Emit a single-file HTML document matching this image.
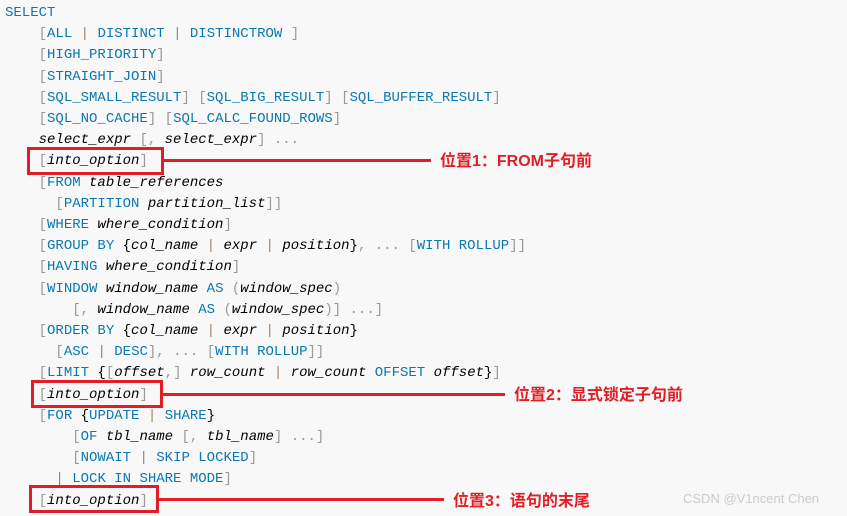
<!DOCTYPE html>
<html><head><meta charset="utf-8"><style>
html,body{margin:0;padding:0;width:847px;height:516px;overflow:hidden;background:#f8f8f8;}
pre{position:absolute;left:5px;top:3px;margin:0;font-family:"Liberation Mono",monospace;font-size:14px;line-height:21.2px;color:#000;}
.k{color:#0a78b0}.p{color:#999}.o{color:#a67f59}.i{font-style:italic;color:#000}
.box{position:absolute;border:3px solid #e31d25;box-sizing:border-box;}
.ln{position:absolute;height:3px;background:#e31d25;}
.lab{position:absolute;font-family:"Liberation Sans","Noto Sans CJK SC",sans-serif;font-weight:bold;font-size:16px;color:#e31d25;line-height:20px;}
.wm{position:absolute;left:683px;top:491px;font-family:"Liberation Sans","Noto Sans CJK SC",sans-serif;font-size:13px;color:#ccc;}
</style></head><body>
<pre><span class="k">SELECT</span>
    <span class="p">[</span><span class="k">ALL</span> <span class="o">|</span> <span class="k">DISTINCT</span> <span class="o">|</span> <span class="k">DISTINCTROW</span> <span class="p">]</span>
    <span class="p">[</span><span class="k">HIGH_PRIORITY</span><span class="p">]</span>
    <span class="p">[</span><span class="k">STRAIGHT_JOIN</span><span class="p">]</span>
    <span class="p">[</span><span class="k">SQL_SMALL_RESULT</span><span class="p">]</span> <span class="p">[</span><span class="k">SQL_BIG_RESULT</span><span class="p">]</span> <span class="p">[</span><span class="k">SQL_BUFFER_RESULT</span><span class="p">]</span>
    <span class="p">[</span><span class="k">SQL_NO_CACHE</span><span class="p">]</span> <span class="p">[</span><span class="k">SQL_CALC_FOUND_ROWS</span><span class="p">]</span>
    <span class="i">select_expr</span> <span class="p">[,</span> <span class="i">select_expr</span><span class="p">] ...</span>
    <span class="p">[</span><span class="i">into_option</span><span class="p">]</span>
    <span class="p">[</span><span class="k">FROM</span> <span class="i">table_references</span>
      <span class="p">[</span><span class="k">PARTITION</span> <span class="i">partition_list</span><span class="p">]]</span>
    <span class="p">[</span><span class="k">WHERE</span> <span class="i">where_condition</span><span class="p">]</span>
    <span class="p">[</span><span class="k">GROUP BY</span> {<span class="i">col_name</span> <span class="o">|</span> <span class="i">expr</span> <span class="o">|</span> <span class="i">position</span>}<span class="p">, ...</span> <span class="p">[</span><span class="k">WITH ROLLUP</span><span class="p">]]</span>
    <span class="p">[</span><span class="k">HAVING</span> <span class="i">where_condition</span><span class="p">]</span>
    <span class="p">[</span><span class="k">WINDOW</span> <span class="i">window_name</span> <span class="k">AS</span> <span class="p">(</span><span class="i">window_spec</span><span class="p">)</span>
        <span class="p">[,</span> <span class="i">window_name</span> <span class="k">AS</span> <span class="p">(</span><span class="i">window_spec</span><span class="p">)] ...]</span>
    <span class="p">[</span><span class="k">ORDER BY</span> {<span class="i">col_name</span> <span class="o">|</span> <span class="i">expr</span> <span class="o">|</span> <span class="i">position</span>}
      <span class="p">[</span><span class="k">ASC</span> <span class="o">|</span> <span class="k">DESC</span><span class="p">], ...</span> <span class="p">[</span><span class="k">WITH ROLLUP</span><span class="p">]]</span>
    <span class="p">[</span><span class="k">LIMIT</span> {<span class="p">[</span><span class="i">offset</span><span class="p">,]</span> <span class="i">row_count</span> <span class="o">|</span> <span class="i">row_count</span> <span class="k">OFFSET</span> <span class="i">offset</span>}<span class="p">]</span>
    <span class="p">[</span><span class="i">into_option</span><span class="p">]</span>
    <span class="p">[</span><span class="k">FOR</span> {<span class="k">UPDATE</span> <span class="o">|</span> <span class="k">SHARE</span>}
        <span class="p">[</span><span class="k">OF</span> <span class="i">tbl_name</span> <span class="p">[,</span> <span class="i">tbl_name</span><span class="p">] ...]</span>
        <span class="p">[</span><span class="k">NOWAIT</span> <span class="o">|</span> <span class="k">SKIP LOCKED</span><span class="p">]</span>
      <span class="o">|</span> <span class="k">LOCK IN SHARE MODE</span><span class="p">]</span>
    <span class="p">[</span><span class="i">into_option</span><span class="p">]</span></pre>

<div class="box" style="left:27px;top:147px;width:137px;height:28px"></div>
<div class="ln" style="left:164px;top:159px;width:267px"></div>
<div class="lab" style="left:440px;top:152px">位置1：FROM子句前</div>

<div class="box" style="left:31px;top:380px;width:132px;height:28px"></div>
<div class="ln" style="left:163px;top:393px;width:342px"></div>
<div class="lab" style="left:514px;top:386px">位置2：显式锁定子句前</div>

<div class="box" style="left:29px;top:485px;width:130px;height:28px"></div>
<div class="ln" style="left:159px;top:498px;width:285px"></div>
<div class="lab" style="left:453px;top:492px">位置3：语句的末尾</div>

<div class="wm">CSDN @V1ncent Chen</div>
</body></html>
